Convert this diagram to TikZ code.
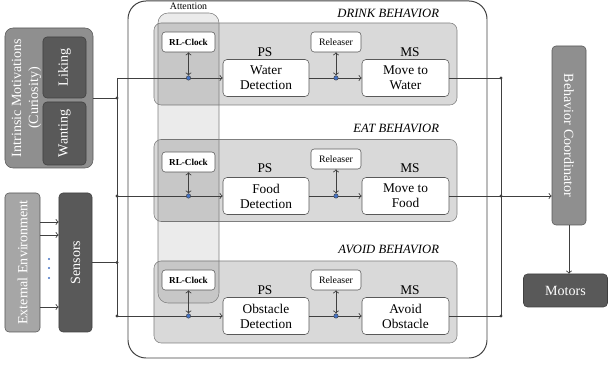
\documentclass[tikz,border=0pt]{standalone}
\usepackage{fontspec}
\setmainfont{Liberation Serif}
\usetikzlibrary{calc}
\definecolor{linec}{HTML}{404040}
\definecolor{boxdark}{HTML}{595959}
\definecolor{boxmid}{HTML}{8F8F8F}
\definecolor{boxlight}{HTML}{A6A6A6}
\definecolor{behfill}{HTML}{D9D9D9}
\definecolor{behline}{HTML}{7F7F7F}
\definecolor{dotblue}{HTML}{4472C4}
\pgfdeclarelayer{fg}
\pgfsetlayers{main,fg}
\tikzstyle{dark} = [rectangle, rounded corners=1mm, draw=linec, fill=boxdark, text=white, inner sep=0pt, font=\fontsize{10}{12}\selectfont]
\tikzstyle{unit} = [rectangle, rounded corners=1mm, draw=boxdark, fill=white, align=center, inner sep=0pt, minimum width=21.5mm, minimum height=9.25mm, font=\fontsize{9.5}{10.6}\selectfont]
\tikzstyle{tag} = [rectangle, rounded corners=0.8mm, draw=boxdark, fill=white, inner sep=0pt, minimum width=12.5mm, minimum height=5mm, font=\fontsize{7}{8}\selectfont]
\tikzstyle{clock} = [tag, minimum width=13.25mm, font=\bfseries\fontsize{6.5}{8}\selectfont]
\tikzstyle{behavior} = [rectangle, rounded corners=1.8mm, draw=behline, fill=behfill, minimum width=75.75mm, minimum height=20.5mm]
\tikzstyle{title} = [anchor=east, font=\itshape\fontsize{9}{10}\selectfont]
\tikzstyle{stage} = [font=\fontsize{9.5}{10}\selectfont]
\tikzstyle{dot} = [circle, fill=linec, inner sep=0pt, minimum size=0.8mm]
\tikzstyle{bdot} = [circle, draw=linec, fill=dotblue, line width=0.3pt, inner sep=0pt, minimum size=1.1mm]
\tikzstyle{wire} = [draw=linec, line width=0.6pt]

\begin{document}
\begin{tikzpicture}[x=0.25mm, y=-0.25mm]
    \useasboundingbox (0,0) rectangle (608,366);
    \node (outer) [rectangle, rounded corners=4.5mm, draw=linec, line width=0.7pt, minimum width=89.75mm, minimum height=89.25mm] at (307.5,179.5) {};
    \node (beh1) [behavior] at (305.5,64) {};
    \node (beh2) [behavior] at (305.5,180.5) {};
    \node (beh3) [behavior] at (305.5,302) {};
    \node (t1) [title] at (444,13) {DRINK BEHAVIOR};
    \node (t2) [title] at (444,128) {EAT BEHAVIOR};
    \node (t3) [title] at (444,249) {AVOID BEHAVIOR};
    \node (att) [rectangle, rounded corners=2.5mm, draw=behline, fill=black, fill opacity=0.08, minimum width=15.25mm, minimum height=72.5mm] at (188.5,158) {};
    \node (attl) [font=\fontsize{7}{8}\selectfont] at (188.5,6) {Attention};
    % drink
    \node (clk1) [clock] at (188.5,42) {RL-Clock};
    \node (rel1) [tag] at (336,42) {Releaser};
    \node (p1) [stage] at (265,52) {PS};
    \node (m1) [stage] at (410,52) {MS};
    \node (ps1) [unit] at (266,78) {Water\\Detection};
    \node (ms1) [unit, minimum width=21.75mm] at (405.5,78) {Move to\\Water};
    % eat
    \node (clk2) [clock] at (188.5,162) {RL-Clock};
    \node (rel2) [tag] at (336,159) {Releaser};
    \node (p2) [stage] at (265,168) {PS};
    \node (m2) [stage] at (410,168) {MS};
    \node (ps2) [unit] at (266,196) {Food\\Detection};
    \node (ms2) [unit, minimum width=21.75mm] at (405.5,196) {Move to\\Food};
    % avoid
    \node (clk3) [clock] at (188.5,280) {RL-Clock};
    \node (rel3) [tag] at (336,280) {Releaser};
    \node (p3) [stage] at (265,290) {PS};
    \node (m3) [stage] at (410,290) {MS};
    \node (ps3) [unit] at (266,316) {Obstacle\\Detection};
    \node (ms3) [unit, minimum width=21.75mm] at (405.5,316) {Avoid\\Obstacle};
    % left side
    \node (im) [rectangle, rounded corners=2mm, draw=boxdark, fill=boxmid, minimum width=22mm, minimum height=35mm] at (49,98) {};
    \node (imtext) [rotate=90, text=white, align=center, font=\fontsize{10}{12}\selectfont] at (26.5,98) {Intrinsic Motivations\\(Curiosity)};
    \node (like) [dark, rotate=90, minimum width=15.25mm, minimum height=10.75mm] at (64.5,67.5) {Liking};
    \node (want) [dark, rotate=90, minimum width=15.75mm, minimum height=10.75mm] at (64.5,133.5) {Wanting};
    \node (ext) [dark, rotate=90, draw=boxdark, fill=boxlight, minimum width=34.75mm, minimum height=8.75mm] at (22.5,262.5) {External Environment};
    \node (sens) [dark, rotate=90, minimum width=34.75mm, minimum height=8.25mm] at (75.5,262.5) {Sensors};
    % right side
    \node (bc) [dark, rotate=-90, draw=boxdark, fill=boxmid, minimum width=44.75mm, minimum height=8.5mm] at (569,135.5) {Behavior Coordinator};
    \node (mot) [dark, minimum width=21mm, minimum height=8.25mm] at (565.5,290.5) {Motors};
    \begin{pgfonlayer}{fg}
    \node (v1) [circle, fill=dotblue, inner sep=0pt, minimum size=0.6mm] at (49,259) {};
    \node (v2) [circle, fill=dotblue, inner sep=0pt, minimum size=0.6mm] at (49,268) {};
    \node (v3) [circle, fill=dotblue, inner sep=0pt, minimum size=0.6mm] at (49,278) {};
    \coordinate (l1) at (117,78);
    \node (d1) [dot] at (117,98) {};
    \node (d2) [dot] at (117,196) {};
    \node (d3) [dot] at (117,262.5) {};
    \node (d4) [dot] at (117,316) {};
    \node (r1) [dot] at (501,78) {};
    \node (r2) [dot] at (501,196) {};
    \node (r3) [dot] at (501,316) {};
    \node (b1) [bdot] at (188.5,78) {};
    \node (b2) [bdot] at (188.5,196) {};
    \node (b3) [bdot] at (188.5,316) {};
    \node (c1) [bdot] at (336,78) {};
    \node (c2) [bdot] at (336,196) {};
    \node (c3) [bdot] at (336,316) {};
    \end{pgfonlayer}
    \draw [wire] (l1) -- (d4.center);
    \draw [wire] (im) -- (d1.center);
    \draw [wire] (sens) -- (d3.center);
    \draw [wire, ->] (l1) -- (ps1);
    \draw [wire, ->] (d2.center) -- (ps2);
    \draw [wire, ->] (d4.center) -- (ps3);
    \draw [wire, ->] (ps1) -- (ms1);
    \draw [wire, ->] (ps2) -- (ms2);
    \draw [wire, ->] (ps3) -- (ms3);
    \draw [wire, <->] (clk1) -- (b1);
    \draw [wire, <->] (clk2) -- (b2);
    \draw [wire, <->] (clk3) -- (b3);
    \draw [wire, <->] (rel1) -- (c1);
    \draw [wire, <->] (rel2) -- (c2);
    \draw [wire, <->] (rel3) -- (c3);
    \draw [wire] (ms1) -- (r1.center);
    \draw [wire] (ms2) -- (r2.center);
    \draw [wire] (ms3) -- (r3.center);
    \draw [wire] (r1.center) -- (r3.center);
    \draw [wire, ->] (r2.center) -- (r2 -| bc.south);
    \draw [wire, ->] (bc.east) -- (bc.east |- mot.north);
    \draw [wire, ->] (ext.south |- 0,222) -- (sens.north |- 0,222);
    \draw [wire, ->] (ext.south |- 0,235) -- (sens.north |- 0,235);
    \draw [wire, ->] (ext.south |- 0,307) -- (sens.north |- 0,307);
\end{tikzpicture}
\end{document}
